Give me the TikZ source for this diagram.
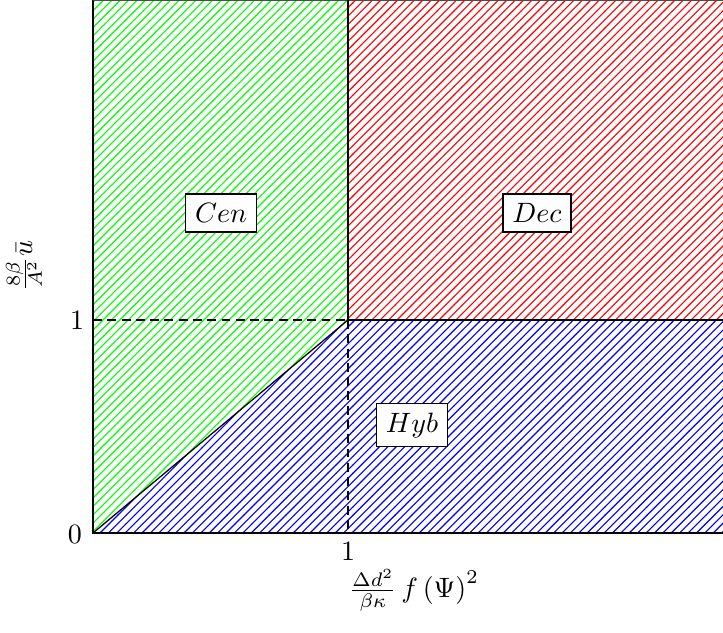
\documentclass[tikz,border=0pt]{standalone}
\usetikzlibrary{patterns}
\begin{document}
\begin{tikzpicture}[x=0.3571pt,y=-0.3571pt,
  region/.style={pattern=north east lines},
  axisline/.style={line width=0.45pt,black},
  topline/.style={line width=0.4pt,black!70},
  guide/.style={line width=0.45pt,black,dash pattern=on 3.2pt off 1.9pt},
  tag/.style={draw=black,fill=white,line width=0.45pt,inner sep=3.33pt},
  ticklabel/.style={inner sep=0pt}]
\useasboundingbox (0,0) rectangle (723,633);
% corners
\coordinate (O) at (93,533);
\coordinate (X1) at (348,533);
\coordinate (Y1) at (93,320);
\coordinate (P) at (348,320);
\coordinate (T) at (348,0);
\coordinate (TL) at (93,0);
\coordinate (TR) at (723,0);
\coordinate (R1) at (723,320);
\coordinate (BR) at (723,533);
% regions
\path[region,pattern color=green] (O) -- (P) -- (T) -- (TL) -- cycle;
\path[region,pattern color=red] (P) -- (T) -- (TR) -- (R1) -- cycle;
\path[region,pattern color=blue] (O) -- (P) -- (R1) -- (BR) -- cycle;
% lines
\draw[axisline] (TL) -- (O) -- (BR);
\draw[topline] (TL) -- (TR);
\draw[axisline] (O) -- (P);
\draw[axisline] (T) -- (P) -- (R1);
\draw[guide] (Y1) -- (P);
\draw[guide] (P) -- (X1);
% labels
\node[ticklabel] (l0) at (75,534) {0};
\node[ticklabel] (ly1) at (77,320) {1};
\node[ticklabel] (lx1) at (348,551) {1};
\node (xlab) at (414,590) {$\frac{\Delta d^2}{\beta\kappa}\,f\left(\Psi\right)^2$};
\node[rotate=90] (ylab) at (24,266) {$\frac{8\beta}{A^2}\bar{u}$};
\node[tag] (cen) at (221,213) {$Cen$};
\node[tag] (dec) at (537,213) {$Dec$};
\node[tag] (hyb) at (412,425) {$Hyb$};
\end{tikzpicture}
\end{document}
